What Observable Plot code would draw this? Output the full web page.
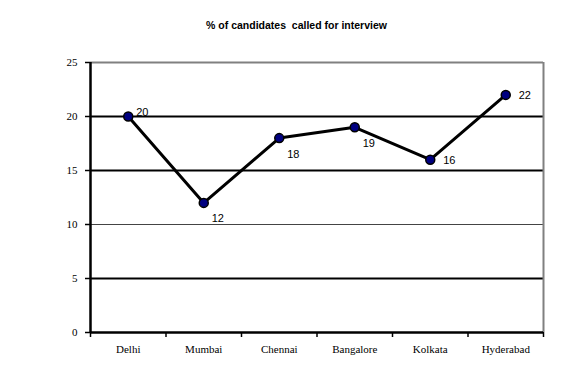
<!DOCTYPE html>
<html>
<head>
<meta charset="utf-8">
<script src="https://cdn.jsdelivr.net/npm/d3@7"></script>
<script src="https://cdn.jsdelivr.net/npm/@observablehq/plot@0.6"></script>
<style>
  html, body { margin: 0; padding: 0; background: #fff; }
  #wrap { position: relative; width: 573px; height: 373px; }
  #title { position: absolute; left: 0; top: 19px; width: 573px; padding-left: 20px; box-sizing: border-box; text-align: center;
           font: bold 10.5px "Liberation Sans", Arial, sans-serif; color: #000; }
  #wrap svg { position: absolute; left: 0; top: 0; }
</style>
</head>
<body>
<div id="wrap">
  <div id="title">% of candidates&nbsp; called for interview</div>
</div>
<script>
const categories = ["Delhi", "Mumbai", "Chennai", "Bangalore", "Kolkata", "Hyderabad"];
const values = [20, 12, 18, 19, 16, 22];
const yTicks = [0, 5, 10, 15, 20, 25];

const data = categories.map((c, i) => ({category: c, index: i, value: values[i]}));
const boundaries = d3.range(-0.5, categories.length, 1);

const serif = "'Liberation Serif', serif";
const sans = "'Liberation Sans', Arial, sans-serif";

const above = new Set(["Delhi"]);
const below = new Set(["Mumbai", "Chennai", "Bangalore"]);
const right = new Set(["Kolkata", "Hyderabad"]);

const chart = Plot.plot({
  width: 573,
  height: 373,
  marginTop: 62,
  marginBottom: 41,
  marginLeft: 90,
  marginRight: 30,
  style: {background: "#fff", color: "#000", fontFamily: serif, fontSize: "11px"},
  x: {type: "linear", domain: [-0.5, categories.length - 0.5]},
  y: {domain: [0, 25]},
  marks: [
    Plot.ruleY([25], {stroke: "#808080", strokeWidth: 2}),
    Plot.ruleY([5, 15, 20], {stroke: "#000", strokeWidth: 2}),
    Plot.ruleY([10], {stroke: "#444", strokeWidth: 1.2}),
    Plot.ruleX([categories.length - 0.5], {stroke: "#808080", strokeWidth: 2}),
    Plot.axisY({ticks: yTicks, tickSize: 5, tickPadding: 8, fontSize: 11, label: null, strokeWidth: 1.5}),
    Plot.axisX({ticks: boundaries, tickSize: 5, tickFormat: () => "", label: null, strokeWidth: 1.5}),
    Plot.axisX({ticks: d3.range(categories.length), tickSize: 0, tickPadding: 13, tickFormat: i => categories[i], fontSize: 11, label: null}),
    Plot.ruleX([-0.5], {stroke: "#000", strokeWidth: 2.5}),
    Plot.ruleY([0], {stroke: "#000", strokeWidth: 2.5}),
    Plot.line(data, {x: "index", y: "value", stroke: "#000", strokeWidth: 3}),
    Plot.dot(data, {x: "index", y: "value", r: 4.5, fill: "#000080", stroke: "#000", strokeWidth: 1.5}),
    Plot.text(data, {filter: d => above.has(d.category), x: "index", y: "value", text: d => String(d.value), dx: 8, dy: -4, textAnchor: "start", fontFamily: sans, fontSize: 11, fill: "#000"}),
    Plot.text(data, {filter: d => below.has(d.category), x: "index", y: "value", text: d => String(d.value), dx: 8, dy: 16, textAnchor: "start", fontFamily: sans, fontSize: 11, fill: "#000"}),
    Plot.text(data, {filter: d => right.has(d.category), x: "index", y: "value", text: d => String(d.value), dx: 13, dy: 1, textAnchor: "start", fontFamily: sans, fontSize: 11, fill: "#000"})
  ]
});
document.getElementById("wrap").prepend(chart);
</script>
</body>
</html>
